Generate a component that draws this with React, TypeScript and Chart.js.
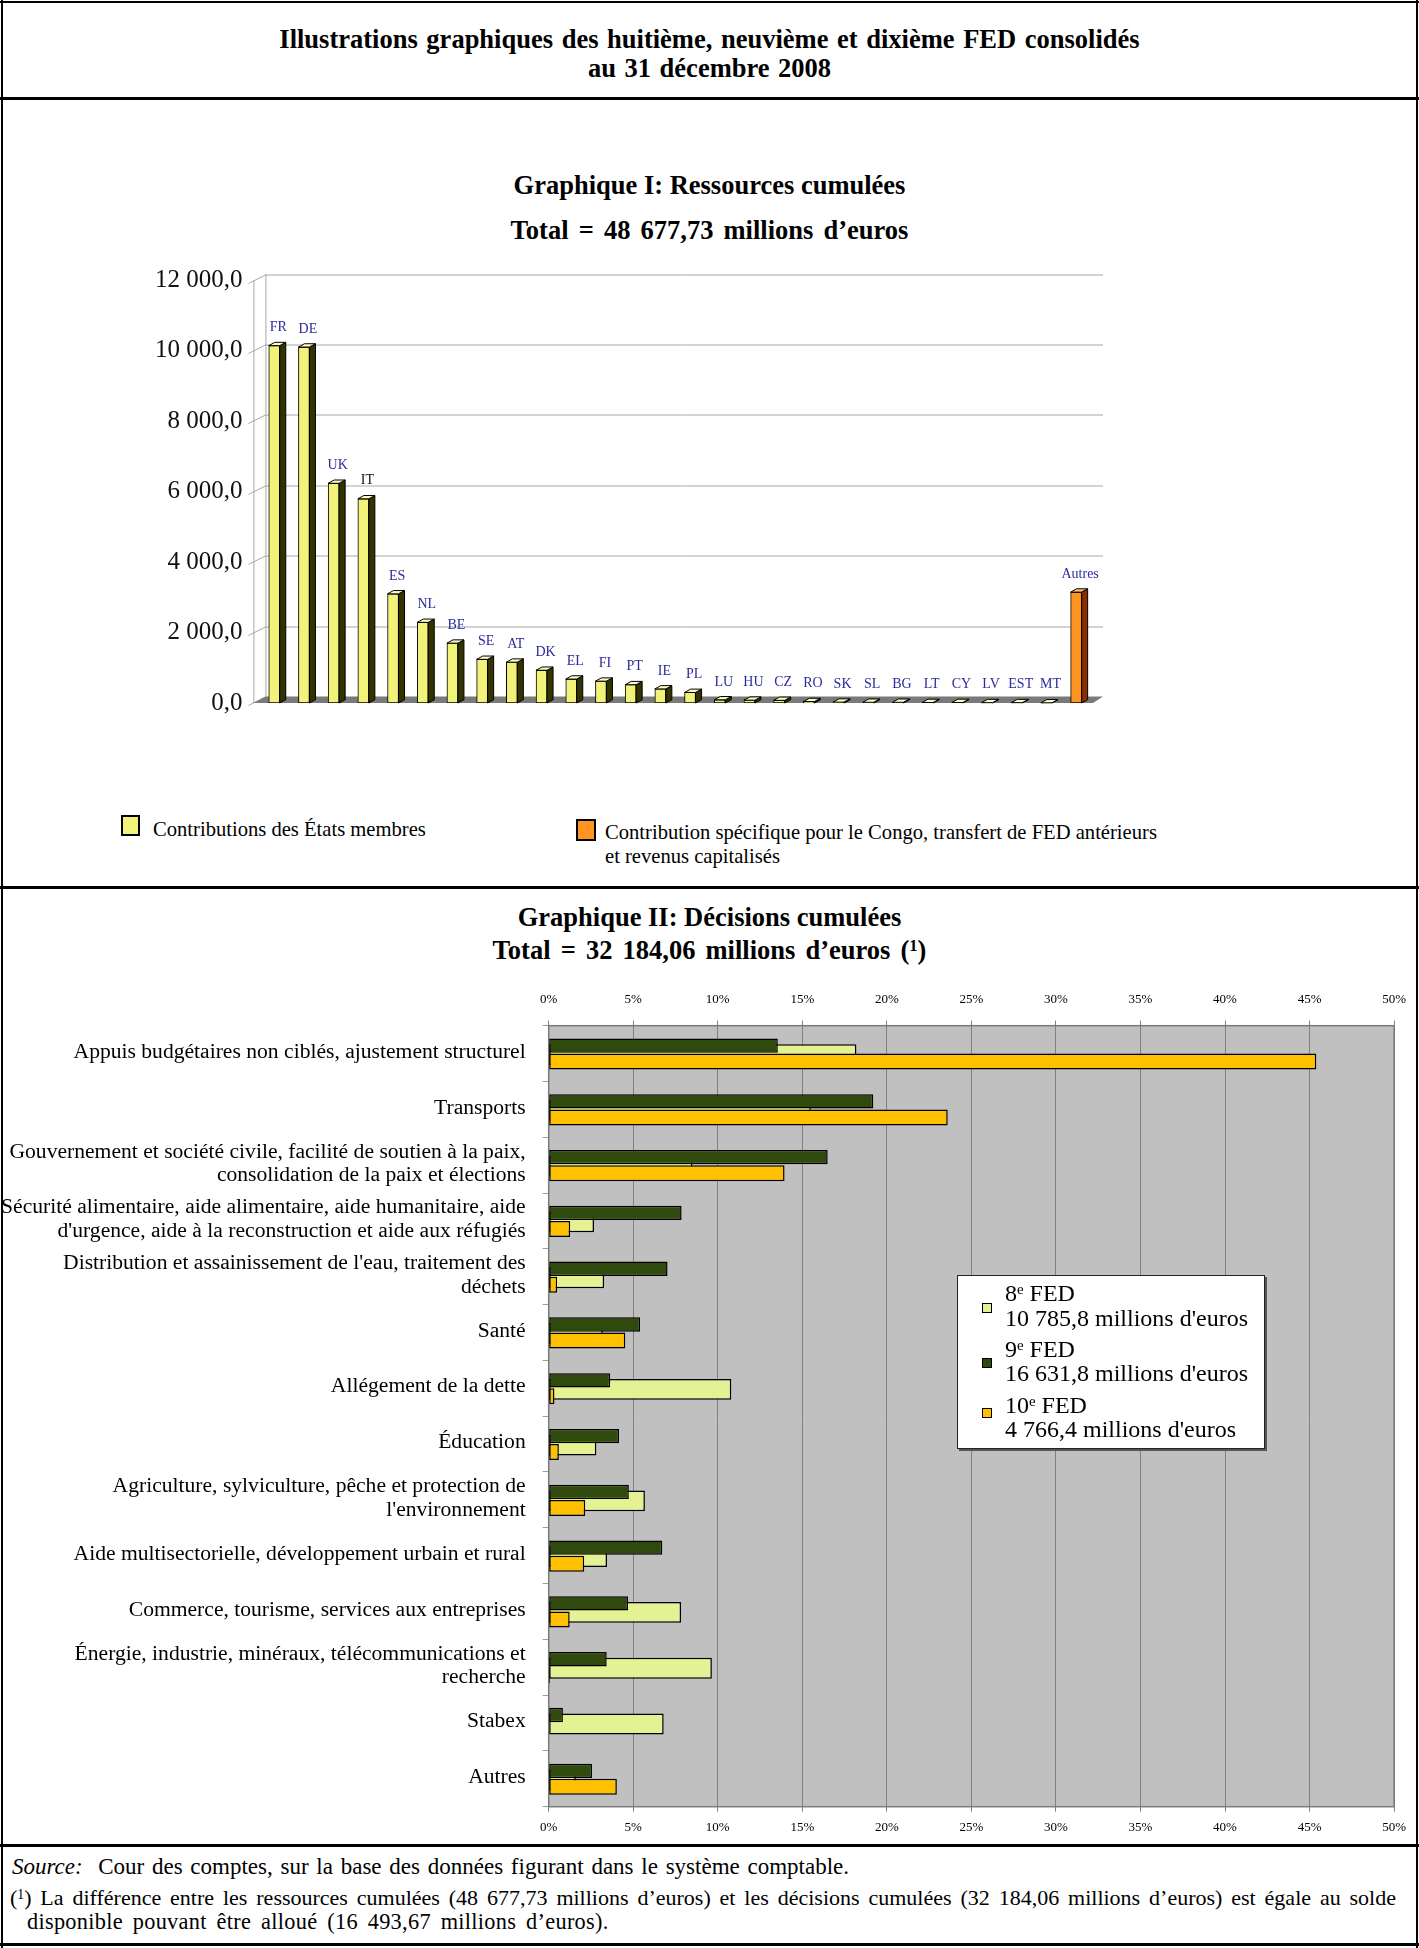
import React, { useEffect, useRef } from 'react';
import { Chart, registerables } from 'chart.js';

Chart.register(...registerables);

const FONT = "'Liberation Serif', 'Times New Roman', serif";

// ---------- Graphique I : Ressources cumulées ----------
const resourceCategories = ['FR', 'DE', 'UK', 'IT', 'ES', 'NL', 'BE', 'SE', 'AT', 'DK', 'EL', 'FI', 'PT', 'IE', 'PL', 'LU', 'HU', 'CZ', 'RO', 'SK', 'SL', 'BG', 'LT', 'CY', 'LV', 'EST', 'MT', 'Autres'];
const resourceValues = [10150, 10110, 6240, 5800, 3100, 2290, 1700, 1240, 1160, 930, 680, 620, 520, 400, 300, 90, 80, 75, 40, 25, 20, 20, 15, 15, 10, 10, 5, 3150];
const resourceTicks = { min: 0, max: 12000, step: 2000 };

// ---------- Graphique II : Décisions cumulées ----------
const decisionCategories = [
  'Appuis budgétaires non ciblés, ajustement structurel',
  'Transports',
  ['Gouvernement et société civile, facilité de soutien à la paix,', 'consolidation de la paix et élections'],
  ['Sécurité alimentaire, aide alimentaire, aide humanitaire, aide', "d'urgence, aide à la reconstruction et aide aux réfugiés"],
  ["Distribution et assainissement de l'eau, traitement des", 'déchets'],
  'Santé',
  'Allégement de la dette',
  'Éducation',
  ['Agriculture, sylviculture, pêche et protection de', "l'environnement"],
  'Aide multisectorielle, développement urbain et rural',
  'Commerce, tourisme, services aux entreprises',
  ['Énergie, industrie, minéraux, télécommunications et', 'recherche'],
  'Stabex',
  'Autres',
];
const fed8Values = [18.2, 15.5, 8.5, 2.68, 3.28, 3.2, 10.8, 2.82, 5.69, 3.45, 7.83, 9.65, 6.8, 1.6];
const fed9Values = [13.55, 19.2, 16.5, 7.86, 7.03, 5.4, 3.64, 4.16, 4.74, 6.72, 4.69, 3.43, 0.84, 2.56];
const fed10Values = [45.4, 23.6, 13.95, 1.27, 0.5, 4.53, 0.34, 0.6, 2.16, 2.1, 1.24, 0.08, 0, 4.03];
const pctTicks = { min: 0, max: 50, step: 5 };
const fedLegend = [
  { ord: '8', label: '10 785,8 millions d\'euros' },
  { ord: '9', label: '16 631,8 millions d\'euros' },
  { ord: '10', label: '4 766,4 millions d\'euros' },
];

// colours
const YELLOW = '#f2f27a';
const YELLOW_SIDE = '#333300';
const YELLOW_TOP = '#fbfbc8';
const ORANGE = '#ff9420';
const ORANGE_SIDE = '#8a2e00';
const ORANGE_TOP = '#ffc07a';
const C8 = '#e4f294';
const C9 = '#2f4a0c';
const C10 = '#ffc000';
const FED_COLORS = [C8, C9, C10];

const fmtNum = (v: number) => {
  const [i, d] = v.toFixed(1).split('.');
  return i.replace(/\B(?=(\d{3})+(?!\d))/g, ' ') + ',' + d;
};

// 3D look for chart I (drawn from the scales / bar elements)
const wall3d = {
  id: 'wall3d',
  beforeDatasetsDraw(chart: any) {
    const { ctx, chartArea: a, scales } = chart;
    const y = scales.y;
    const dx = 12, dy = 6.5;
    const front = a.left - 6;
    const back = front + dx;
    const right = a.right + 12;
    const yTop = y.getPixelForValue(resourceTicks.max);
    const yBot = y.getPixelForValue(0);
    ctx.save();
    ctx.lineWidth = 1;
    ctx.strokeStyle = '#a8a8a8';
    for (let v = resourceTicks.min; v <= resourceTicks.max; v += resourceTicks.step) {
      const py = Math.round(y.getPixelForValue(v)) + 0.5;
      if (v > 0) {
        ctx.beginPath();
        ctx.moveTo(back, py - dy);
        ctx.lineTo(right, py - dy);
        ctx.stroke();
      }
      ctx.beginPath();
      ctx.moveTo(front - 5, py + 2);
      ctx.lineTo(back, py - dy);
      ctx.stroke();
    }
    ctx.beginPath();
    ctx.moveTo(front + 0.5, yTop);
    ctx.lineTo(front + 0.5, yBot);
    ctx.moveTo(back + 0.5, yTop - dy);
    ctx.lineTo(back + 0.5, yBot - dy);
    ctx.stroke();
    // floor
    ctx.fillStyle = '#7a7a7a';
    ctx.beginPath();
    ctx.moveTo(front, yBot);
    ctx.lineTo(back, yBot - dy);
    ctx.lineTo(a.right + dx, yBot - dy);
    ctx.lineTo(a.right + 2, yBot);
    ctx.closePath();
    ctx.fill();
    ctx.restore();
  },
  afterDatasetsDraw(chart: any) {
    const { ctx } = chart;
    const meta = chart.getDatasetMeta(0);
    const bdx = 6, bdy = 3.3;
    ctx.save();
    ctx.lineWidth = 1;
    ctx.strokeStyle = '#000';
    meta.data.forEach((el: any, i: number) => {
      const { x, y, base, width } = el.getProps(['x', 'y', 'base', 'width'], true);
      const other = resourceCategories[i] === 'Autres';
      const xl = x - width / 2;
      const xr = x + width / 2;
      ctx.fillStyle = other ? ORANGE_SIDE : YELLOW_SIDE;
      ctx.beginPath();
      ctx.moveTo(xr, y);
      ctx.lineTo(xr + bdx, y - bdy);
      ctx.lineTo(xr + bdx, base - bdy);
      ctx.lineTo(xr, base);
      ctx.closePath();
      ctx.fill();
      ctx.stroke();
      ctx.fillStyle = other ? ORANGE_TOP : YELLOW_TOP;
      ctx.beginPath();
      ctx.moveTo(xl, y);
      ctx.lineTo(xl + bdx, y - bdy);
      ctx.lineTo(xr + bdx, y - bdy);
      ctx.lineTo(xr, y);
      ctx.closePath();
      ctx.fill();
      ctx.stroke();
      ctx.fillStyle = resourceCategories[i] === 'IT' ? '#111' : '#2b2b9a';
      ctx.font = `14px ${FONT}`;
      ctx.textAlign = 'center';
      ctx.textBaseline = 'middle';
      ctx.fillText(resourceCategories[i], x + 4, y - 18);
    });
    ctx.restore();
  },
};

const plotBg = {
  id: 'plotBg',
  beforeDraw(chart: any) {
    const { ctx, chartArea: a } = chart;
    ctx.save();
    ctx.fillStyle = '#c0c0c0';
    ctx.fillRect(a.left, a.top, a.right - a.left, a.bottom - a.top);
    ctx.restore();
  },
  beforeDatasetsDraw(chart: any) {
    const { ctx, chartArea: a } = chart;
    ctx.save();
    ctx.strokeStyle = '#7a7a7a';
    ctx.lineWidth = 1.5;
    ctx.strokeRect(a.left, a.top, a.right - a.left, a.bottom - a.top);
    ctx.restore();
  },
};

const CATEGORY_PX = 55.79;
const yLinear = (shiftPx: number) => ({
  type: 'linear',
  display: false,
  reverse: true,
  offset: false,
  grid: { offset: false, display: false },
  min: -0.5 - shiftPx / CATEGORY_PX,
  max: decisionCategories.length - 0.5 - shiftPx / CATEGORY_PX,
});

const pctAxis = (position: string, height: number, padding: number, onArea: boolean) => ({
  type: 'linear',
  position,
  min: pctTicks.min,
  max: pctTicks.max,
  afterFit: (s: any) => { s.height = height; },
  border: { display: false },
  grid: { color: '#808080', tickLength: 5, drawOnChartArea: onArea },
  ticks: {
    stepSize: pctTicks.step,
    padding,
    color: '#000',
    font: { family: FONT, size: 13 },
    callback: (v: any) => `${v}%`,
  },
});

const abs = (left: number, top: number, extra: any = {}) => ({ position: 'absolute' as const, left, top, ...extra });

export default function App() {
  const ref1 = useRef<HTMLCanvasElement>(null);
  const ref2 = useRef<HTMLCanvasElement>(null);

  useEffect(() => {
    const ch1 = new Chart(ref1.current as HTMLCanvasElement, {
      type: 'bar',
      data: {
        labels: resourceCategories,
        datasets: [
          {
            data: resourceValues,
            backgroundColor: resourceCategories.map((c) => (c === 'Autres' ? ORANGE : YELLOW)),
            borderColor: '#000',
            borderWidth: 1,
            borderSkipped: false,
            barThickness: 11,
          },
        ],
      },
      options: {
        responsive: false,
        animation: false,
        layout: { padding: { top: 30.5, bottom: 27, left: 0, right: 49 } },
        plugins: { legend: { display: false }, tooltip: { enabled: false } },
        scales: {
          x: { display: false, offset: true },
          y: {
            min: resourceTicks.min,
            max: resourceTicks.max,
            afterFit: (s: any) => { s.width = 259.4; s.paddingTop = 0; s.paddingBottom = 0; },
            grid: { display: false, drawTicks: false },
            border: { display: false },
            ticks: {
              stepSize: resourceTicks.step,
              padding: 17,
              color: '#111',
              font: { family: FONT, size: 25 },
              callback: (v: any) => fmtNum(Number(v)),
            },
          },
        },
      } as any,
      plugins: [wall3d],
    });

    const common = { grouped: false, borderColor: '#000', borderWidth: 1.5, borderSkipped: false, categoryPercentage: 0.8, barPercentage: 0.9, xAxisID: 'x' };
    const ch2 = new Chart(ref2.current as HTMLCanvasElement, {
      type: 'bar',
      data: {
        datasets: [
          { ...common, label: '8e FED', data: fed8Values.map((x, i) => ({ x, y: i })), yAxisID: 'y8', backgroundColor: C8, maxBarThickness: 24, order: 1 },
          { ...common, label: '9e FED', data: fed9Values.map((x, i) => ({ x, y: i })), yAxisID: 'y9', backgroundColor: C9, maxBarThickness: 16, order: 0 },
          { ...common, label: '10e FED', data: fed10Values.map((x, i) => ({ x, y: i })), yAxisID: 'y10', backgroundColor: C10, maxBarThickness: 16, order: 0 },
        ] as any,
      },
      options: {
        indexAxis: 'y',
        responsive: false,
        animation: false,
        layout: { padding: { top: 0, bottom: 0, left: 0, right: 23.4 } },
        plugins: { legend: { display: false }, tooltip: { enabled: false } },
        scales: {
          x: pctAxis('bottom', 35.3, 8, true),
          x2: pctAxis('top', 45.7, 13, false),
          y: {
            type: 'category',
            labels: decisionCategories,
            position: 'left',
            offset: true,
            afterFit: (s: any) => { s.width = 548.7; },
            grid: { offset: true, drawOnChartArea: false, tickLength: 6, color: '#999' },
            border: { display: false },
            ticks: { autoSkip: false, padding: 17, labelOffset: -1.5, color: '#000', font: { family: FONT, size: 21.6, lineHeight: 1.09 } },
          },
          y8: yLinear(1),
          y9: yLinear(-8),
          y10: yLinear(8),
        },
      } as any,
      plugins: [plotBg],
    });

    return () => {
      ch1.destroy();
      ch2.destroy();
    };
  }, []);

  const line = (top: number, h: number) => <div style={abs(0, top, { width: 1419, height: h, background: '#000' })} />;
  const center = (cy: number, lh: number, size: number, content: any, extra: any = {}) => (
    <div style={abs(0, cy - lh / 2, { width: 1419, textAlign: 'center', lineHeight: `${lh}px`, fontSize: size, fontWeight: 'bold', whiteSpace: 'nowrap', ...extra })}>{content}</div>
  );
  const sup = (t: string) => <span style={{ fontSize: '0.62em', position: 'relative', top: '-0.45em', lineHeight: 0 }}>{t}</span>;

  const legendLine1 = [16.6, 72.5, 128.5];
  const legendLine2 = [41.5, 97.3, 153.3];
  const legendSquare = [31.5, 86.5, 137];

  return (
    <div style={abs(0, 0, { width: 1419, height: 1948, background: '#fff', fontFamily: FONT, color: '#000', overflow: 'hidden' })}>
      {/* frame */}
      {line(1, 2)}
      {line(97, 3)}
      {line(886, 3)}
      {line(1844, 3)}
      {line(1943, 3)}
      <div style={abs(1, 0, { width: 2, height: 1948, background: '#000' })} />
      <div style={abs(1416, 0, { width: 2, height: 1948, background: '#000' })} />

      {/* main title */}
      {center(38.5, 30, 26.5, 'Illustrations graphiques des huitième, neuvième et dixième FED consolidés', { wordSpacing: '2px' })}
      {center(68, 30, 26.5, 'au 31 décembre 2008', { wordSpacing: '2px' })}

      {center(185, 30, 26.5, 'Graphique I: Ressources cumulées')}
      {center(230, 30, 26.5, 'Total = 48 677,73 millions d’euros', { wordSpacing: '3.5px' })}

      <canvas ref={ref1} width={1140} height={480} style={abs(0, 250, { display: 'block' })} />

      {/* legend I */}
      <div style={abs(121, 815, { width: 19, height: 21, background: YELLOW, border: '2px solid #000', boxSizing: 'border-box' })} />
      <div style={abs(153, 815.5, { fontSize: 20.6, lineHeight: '26px', whiteSpace: 'nowrap' })}>Contributions des États membres</div>
      <div style={abs(576, 819, { width: 20, height: 22, background: ORANGE, border: '2px solid #000', boxSizing: 'border-box' })} />
      <div style={abs(605, 820, { fontSize: 20.6, lineHeight: '24px', whiteSpace: 'nowrap' })}>
        Contribution spécifique pour le Congo, transfert de FED antérieurs
        <br />
        et revenus capitalisés
      </div>

      {center(917, 30, 26.5, 'Graphique II: Décisions cumulées')}
      {center(949.5, 30, 26.5, <span>Total = 32 184,06 millions d’euros ({sup('1')})</span>, { wordSpacing: '3.5px' })}

      <canvas ref={ref2} width={1419} height={862} style={abs(0, 980, { display: 'block' })} />

      {/* legend II */}
      <div style={abs(957, 1275, { width: 308, height: 174, background: '#fff', border: '1.5px solid #222', boxShadow: '2px 2px 0 #555', boxSizing: 'border-box' })}>
        {fedLegend.map((e, i) => (
          <React.Fragment key={e.ord}>
            <div style={abs(24, legendSquare[i] - 5, { width: 10, height: 10, background: FED_COLORS[i], border: '1px solid #000', boxSizing: 'border-box' })} />
            <div style={abs(47, legendLine1[i] - 13, { fontSize: 24, lineHeight: '26px', whiteSpace: 'nowrap' })}>
              {e.ord}
              {sup('e')} FED
            </div>
            <div style={abs(47, legendLine2[i] - 13, { fontSize: 24, lineHeight: '26px', whiteSpace: 'nowrap' })}>{e.label}</div>
          </React.Fragment>
        ))}
      </div>

      {/* footer */}
      <div style={abs(12, 1854, { fontSize: 23, lineHeight: '25px', whiteSpace: 'nowrap', wordSpacing: '2px' })}>
        <i>Source:</i>&nbsp; Cour des comptes, sur la base des données figurant dans le système comptable.
      </div>
      <div style={abs(10, 1886, { width: 1386, fontSize: 22, lineHeight: '23.5px', textAlign: 'justify', textAlignLast: 'justify', whiteSpace: 'nowrap' })}>
        ({sup('1')}) La différence entre les ressources cumulées (48 677,73 millions d’euros) et les décisions cumulées (32 184,06 millions d’euros) est égale au solde
      </div>
      <div style={abs(27, 1909.5, { fontSize: 22.3, lineHeight: '23.5px', whiteSpace: 'nowrap', wordSpacing: '4px', letterSpacing: '0.3px' })}>
        disponible pouvant être alloué (16 493,67 millions d’euros).
      </div>
    </div>
  );
}
